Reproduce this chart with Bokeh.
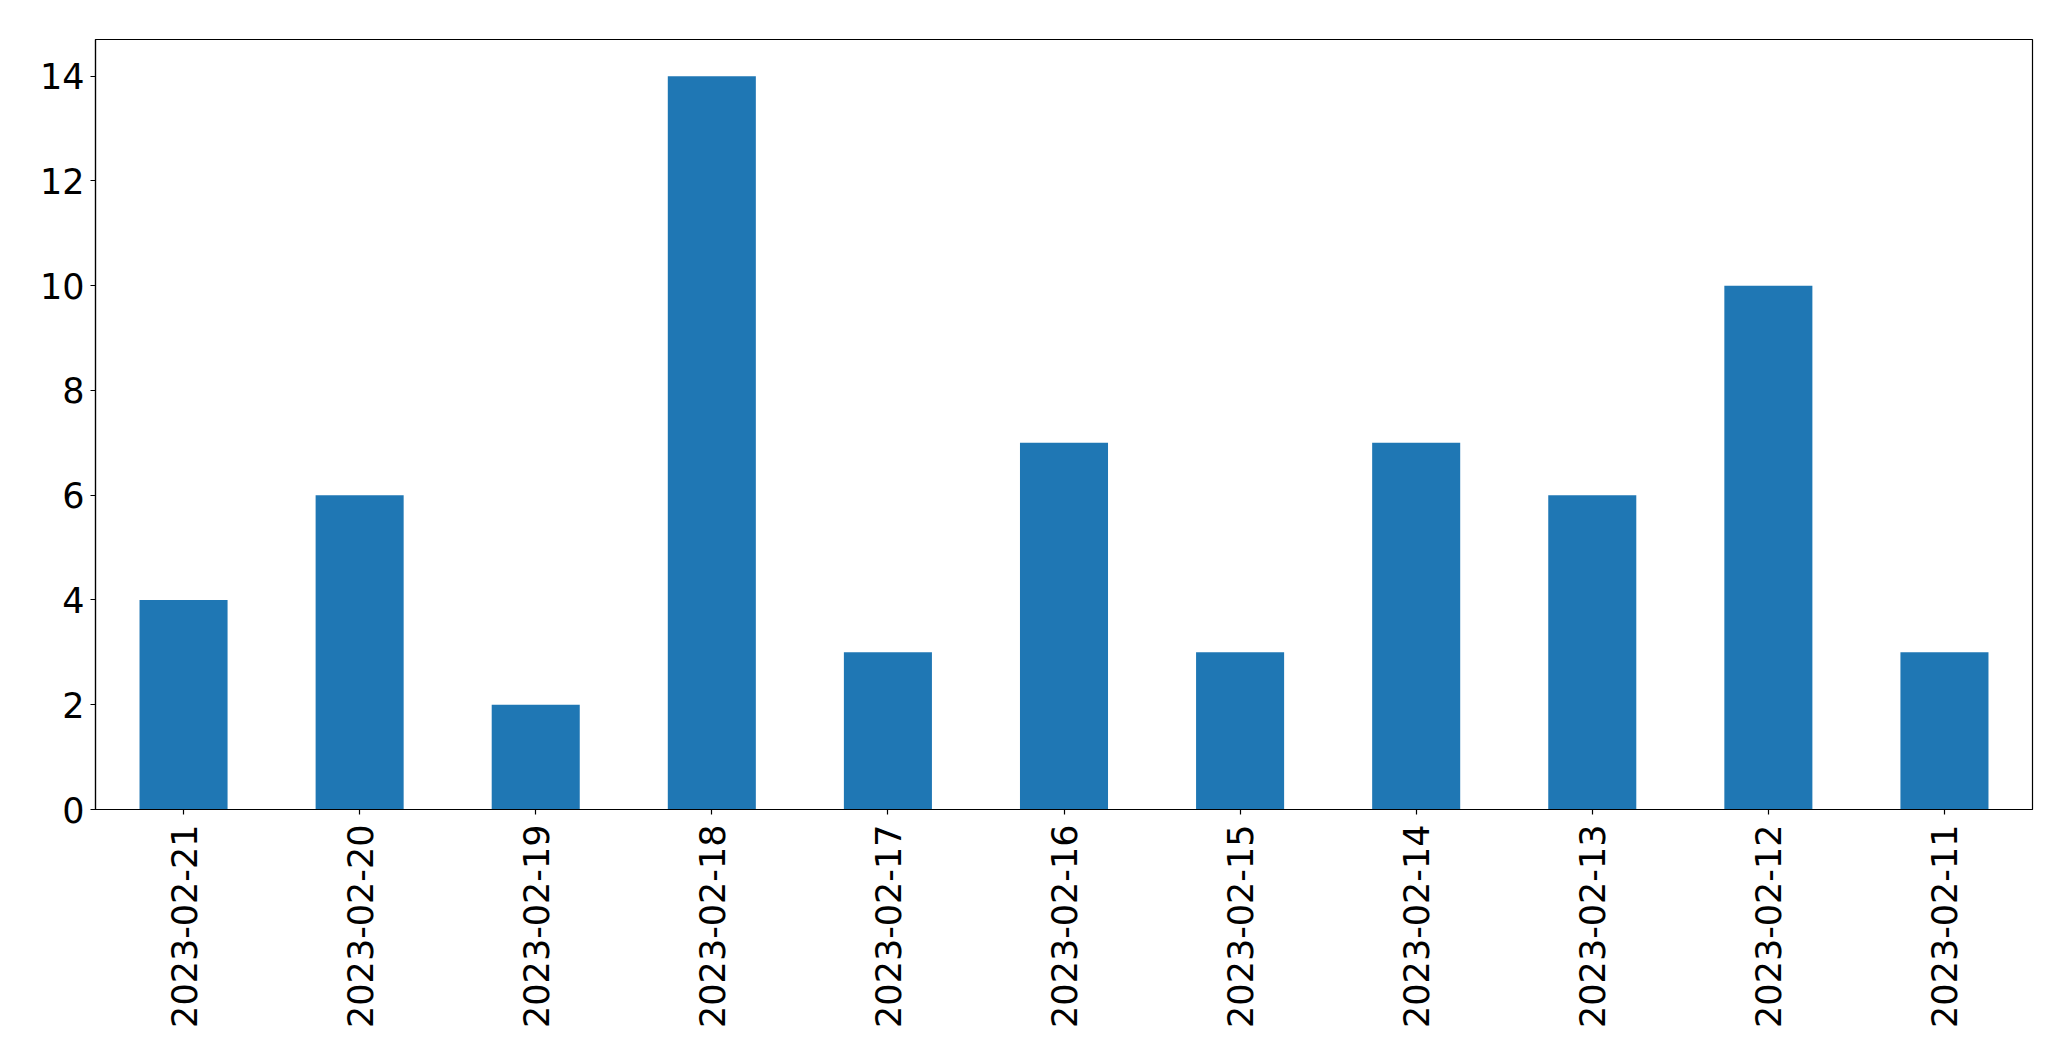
import math
from bokeh.plotting import figure
from bokeh.models import FactorRange, Range1d, FixedTicker, ColumnDataSource
from bokeh.embed import file_html
from bokeh.resources import INLINE

dates = ["2023-02-21", "2023-02-20", "2023-02-19", "2023-02-18", "2023-02-17",
         "2023-02-16", "2023-02-15", "2023-02-14", "2023-02-13", "2023-02-12",
         "2023-02-11"]
counts = [4, 6, 2, 14, 3, 7, 3, 7, 6, 10, 3]
y_ticks = [0, 2, 4, 6, 8, 10, 12, 14]

src = ColumnDataSource(data=dict(date=dates, count=counts))

p = figure(x_range=FactorRange(*dates, range_padding=0), y_range=Range1d(0, max(counts) * 1.05),
           width=2060, height=1050, output_backend="svg", toolbar_location=None,
           min_border_left=95, min_border_top=39, min_border_right=28, min_border_bottom=241)

p.vbar(x="date", top="count", width=0.5, source=src, color="#1f77b4", line_color=None)

p.x_range.factor_padding = 0
p.grid.visible = False
p.outline_line_color = "black"
p.outline_line_width = 1.2

for ax in (p.xaxis[0], p.yaxis[0]):
    ax.axis_line_color = "black"
    ax.axis_line_width = 1.2
    ax.major_tick_line_color = "black"
    ax.major_tick_line_width = 1.2
    ax.major_tick_in = 0
    ax.major_tick_out = 5
    ax.minor_tick_line_color = None
    ax.major_label_text_font = "DejaVu Sans"
    ax.major_label_text_font_size = "35px"
    ax.major_label_text_color = "black"

p.yaxis.ticker = FixedTicker(ticks=y_ticks)
p.yaxis.major_label_standoff = 6
p.xaxis.major_label_orientation = math.pi / 2
p.xaxis.major_label_standoff = 10

open("out.html", "w").write(file_html(p, INLINE))
